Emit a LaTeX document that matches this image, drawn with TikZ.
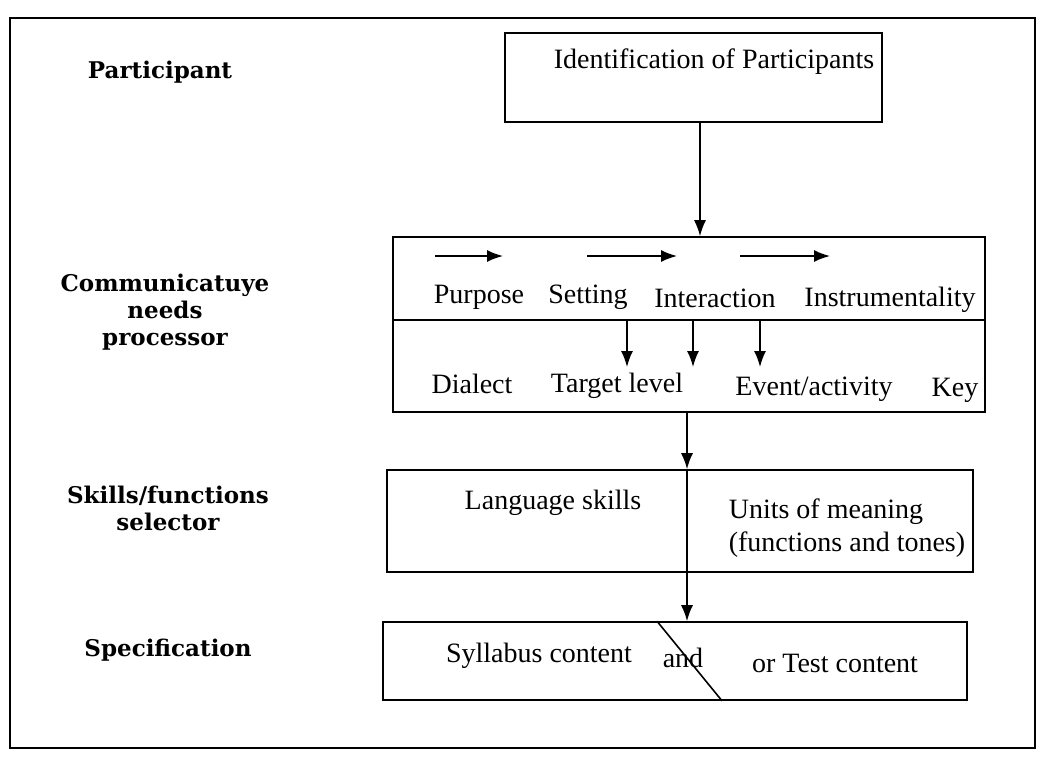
\documentclass[tikz,border=0pt]{standalone}
\usepackage{fontspec}
\setmainfont{Liberation Serif}
\newfontfamily\stagefont{DejaVu Serif}
\usetikzlibrary{arrows.meta}
\begin{document}
\begin{tikzpicture}[x=0.5pt, y=-0.5pt, thick, >={Latex[length=8pt,width=6pt]},
	stagelabel/.style={font=\stagefont\bfseries\fontsize{11.5}{13.5}\selectfont, align=center},
	boxtext/.style={font=\fontsize{14}{16.5}\selectfont, inner sep=0pt},
	stagebox/.style={draw, inner sep=0pt}]
		\useasboundingbox (0,0) rectangle (1054,767);
		%outer frame
		\draw (10,18) rectangle (1035,748);
		
		%stage labels on the left
		\node[stagelabel] (participant) at (160,72){Participant};
		\node[stagelabel] (processor) at (165,312){Communicatuye\\needs\\processor};
		\node[stagelabel] (selector) at (168,508){Skills/functions\\selector};
		\node[stagelabel] (specification) at (168,650){Specification};
		
		%boxes
		\node[stagebox, minimum width=188.5pt, minimum height=44.5pt] (ident) at (693.5,77.5){};
		\node[stagebox, minimum width=296pt, minimum height=87.5pt] (needs) at (689,324.5){};
		\node[stagebox, minimum width=293pt, minimum height=51pt] (skills) at (680,521){};
		\node[stagebox, minimum width=292pt, minimum height=39pt] (spec) at (675,661){};
		
		%box texts
		\node[boxtext] (identtxt) at (714,62){Identification of Participants};
		\node[boxtext] (purpose) at (479,297){Purpose};
		\node[boxtext] (setting) at (588,297){Setting};
		\node[boxtext] (interaction) at (715,298){Interaction};
		\node[boxtext] (instrument) at (890,300){Instrumentality};
		\node[boxtext] (dialect) at (472,384){Dialect};
		\node[boxtext] (target) at (617,386){Target level};
		\node[boxtext] (event) at (814,389){Event/activity};
		\node[boxtext] (key) at (955,390){Key};
		\node[boxtext] (langskills) at (553,503){Language skills};
		\node[boxtext, align=left, anchor=west] (units) at (728,528){Units of meaning\\(functions and tones)};
		\node[boxtext] (syllabus) at (539,656){Syllabus content};
		\node[boxtext] (and) at (683,658){and};
		\node[boxtext] (testcont) at (835,663){or Test content};
		
		%divider of the needs box
		\coordinate (divleft) at (393,320);
		\coordinate (divright) at (985,320);
		\draw (divleft) -- (divright);
		
		%small arrows in the needs box
		\foreach \xa/\xb in {435/503, 587/677, 740/830}{
			\draw[->] (\xa,256) -- (\xb,256);
		}
		\foreach \x in {627, 693, 760}{
			\draw[->] (\x,320) -- (\x,367);
		}
		
		%slanted split of the specification box
		\coordinate (splittop) at (657,641.5);
		\coordinate (splitbot) at (722,680.5);
		\draw (splittop |- spec.north) -- (splitbot |- spec.south);
		
		%main flow
		\coordinate (spine) at (687,0);
		\draw[->] (ident.south -| 700,0) -- (needs.north -| 700,0);
		\draw[->] (spine |- needs.south) -- (spine |- skills.north);
		\draw[->] (spine |- skills.north) -- (spine |- spec.north);
\end{tikzpicture}
\end{document}
